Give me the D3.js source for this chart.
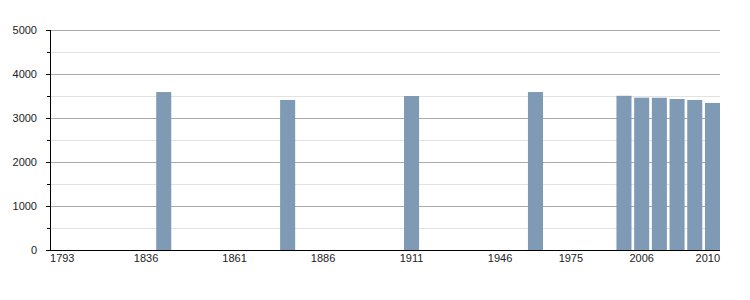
<!DOCTYPE html>
<html>
<head>
<meta charset="utf-8">
<script src="https://cdn.jsdelivr.net/npm/d3@7"></script>
<style>
  body { margin: 0; background: #fff; }
  #chart text { font-family: "Liberation Sans", Arial, sans-serif; font-size: 11px; fill: #222; }
</style>
</head>
<body>
<div id="chart"></div>
<script>
// census years (one slot each), population (null = no bar)
var years = [1793, 1800, 1806, 1821, 1831, 1836, 1841, 1846, 1851, 1856,
  1861, 1866, 1872, 1876, 1881, 1886, 1891, 1896, 1901, 1906,
  1911, 1921, 1926, 1931, 1936, 1946, 1954, 1962, 1968, 1975,
  1982, 1990, 1999, 2006, 2007, 2008, 2009, 2010]
var population = [null, null, null, null, null, null, 3590, null, null, null,
  null, null, null, 3410, null, null, null, null, null, null,
  3500, null, null, null, null, null, null, 3590, null, null,
  null, null, 3505, 3462, 3460, 3432, 3410, 3342]
var tickYears = [1793, 1836, 1861, 1886, 1911, 1946, 1975, 2006, 2010]
var yTicks = [0, 1000, 2000, 3000, 4000, 5000]
var yMinor = [500, 1500, 2500, 3500, 4500]

var MARGIN = {TOP: 30, RIGHT: 30, BOTTOM: 50, LEFT: 50},
  WIDTH = 750 - MARGIN.LEFT - MARGIN.RIGHT,
  HEIGHT = 300 - MARGIN.TOP - MARGIN.BOTTOM

var svg = d3.select("#chart").append("svg")
  .attr("width", 750)
  .attr("height", 300)
  .append("g")
  .attr("transform", "translate(" + MARGIN.LEFT + "," + MARGIN.TOP + ")")

var x = d3.scaleBand()
  .domain(years)
  .range([0, WIDTH])
  .paddingInner(0.15)
  .paddingOuter(0)

var y = d3.scaleLinear()
  .domain([0, 5000])
  .range([HEIGHT, 0])

// minor grid
svg.append("g").selectAll("line")
  .data(yMinor).enter().append("line")
  .attr("x1", 0).attr("x2", WIDTH)
  .attr("y1", function(d){ return y(d) + 0.5 })
  .attr("y2", function(d){ return y(d) + 0.5 })
  .style("stroke", "#e2e2e2")

// major grid
svg.append("g").selectAll("line")
  .data(yTicks.slice(1)).enter().append("line")
  .attr("x1", 0).attr("x2", WIDTH)
  .attr("y1", function(d){ return y(d) + 0.5 })
  .attr("y2", function(d){ return y(d) + 0.5 })
  .style("stroke", "#aaaaaa")

// bars
svg.append("g").selectAll("rect")
  .data(years.map(function(d, i){ return {year: d, value: population[i]} })
    .filter(function(d){ return d.value != null }))
  .enter().append("rect")
  .attr("x", function(d){ return x(d.year) })
  .attr("width", x.bandwidth())
  .attr("y", function(d){ return y(d.value) })
  .attr("height", function(d){ return HEIGHT - y(d.value) })
  .style("fill", "#7f9ab4")

// y axis
var yAxis = svg.append("g")
  .call(d3.axisLeft(y).tickValues(yTicks).tickSize(4).tickFormat(d3.format("d")))
yAxis.select(".domain").remove()
yAxis.selectAll(".tick line").style("stroke", "#000")
yAxis.selectAll(".tick text").attr("x", -13)
svg.append("g").selectAll("line")
  .data(yMinor).enter().append("line")
  .attr("x1", -3).attr("x2", 0)
  .attr("y1", function(d){ return y(d) + 0.5 })
  .attr("y2", function(d){ return y(d) + 0.5 })
  .style("stroke", "#000")
svg.append("line")
  .attr("x1", 0.5).attr("x2", 0.5)
  .attr("y1", 0).attr("y2", HEIGHT)
  .style("stroke", "#000")

// x axis
var xAxis = svg.append("g")
  .attr("transform", "translate(0," + HEIGHT + ")")
  .call(d3.axisBottom(x).tickValues(tickYears).tickSize(0).tickPadding(4))
xAxis.select(".domain").remove()
xAxis.selectAll(".tick text")
  .attr("text-anchor", function(d){ return d == 1793 ? "start" : (d == 2010 ? "end" : "middle") })
  .attr("dx", function(d){ return d == 1793 ? -x.bandwidth() / 2 : (d == 2010 ? x.bandwidth() / 2 : 0) })
svg.append("line")
  .attr("x1", 0).attr("x2", WIDTH)
  .attr("y1", HEIGHT + 0.5).attr("y2", HEIGHT + 0.5)
  .style("stroke", "#000")
</script>
</body>
</html>
